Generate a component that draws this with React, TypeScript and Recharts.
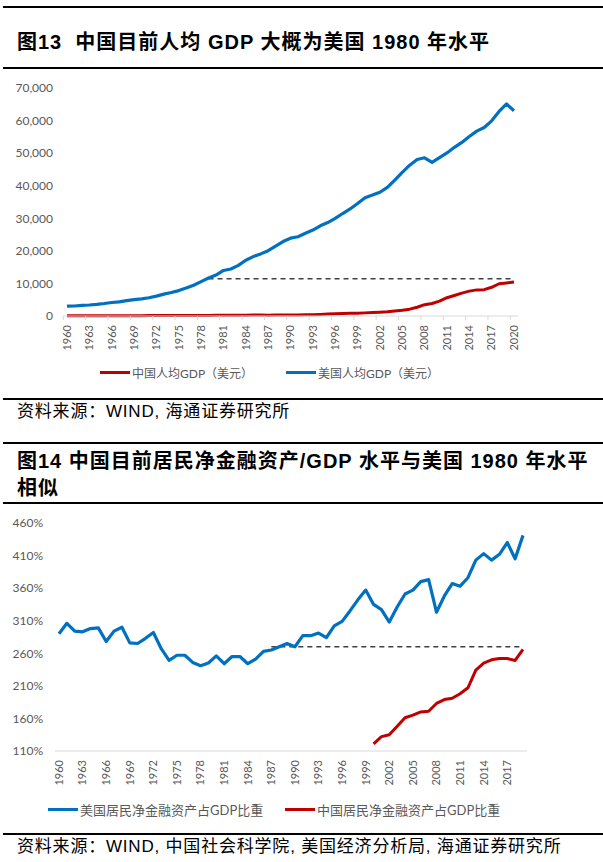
import { LineChart, Line, XAxis, YAxis, ReferenceLine } from "recharts"

// 图13 人均GDP（美元）
const gdpYears = [
  1960, 1961, 1962, 1963, 1964, 1965, 1966, 1967, 1968, 1969,
  1970, 1971, 1972, 1973, 1974, 1975, 1976, 1977, 1978, 1979,
  1980, 1981, 1982, 1983, 1984, 1985, 1986, 1987, 1988, 1989,
  1990, 1991, 1992, 1993, 1994, 1995, 1996, 1997, 1998, 1999,
  2000, 2001, 2002, 2003, 2004, 2005, 2006, 2007, 2008, 2009,
  2010, 2011, 2012, 2013, 2014, 2015, 2016, 2017, 2018, 2019, 2020,
]
const chinaGdp = [
  90, 76, 71, 74, 85, 98, 104, 97, 91, 100,
  113, 119, 132, 157, 160, 178, 165, 185, 156, 184,
  195, 197, 203, 225, 251, 294, 282, 252, 284, 311,
  318, 333, 366, 377, 473, 610, 709, 782, 829, 873,
  959, 1053, 1149, 1289, 1509, 1753, 2099, 2694, 3468, 3832,
  4550, 5614, 6301, 7020, 7636, 8016, 8094, 8817, 9905, 10144, 10409,
]
const usGdp = [
  3007, 3067, 3244, 3375, 3574, 3828, 4146, 4336, 4696, 5032,
  5234, 5609, 6094, 6726, 7226, 7801, 8592, 9453, 10565, 11674,
  12575, 13976, 14434, 15544, 17121, 18237, 19071, 20039, 21417, 22857,
  23889, 24342, 25419, 26387, 27695, 28691, 29968, 31459, 32854, 34515,
  36330, 37134, 37998, 39490, 41725, 44123, 46302, 48050, 48570, 47195,
  48651, 50066, 51784, 53291, 55124, 56763, 57867, 59915, 62805, 65095, 63028,
]
const gdpTicks = [0, 10000, 20000, 30000, 40000, 50000, 60000, 70000]
const gdpBenchmark = 11400
const gdpBenchFrom = 1979
const gdpBenchTo = 2020

// 图14 居民净金融资产/GDP（%）
const assetYears = [
  1960, 1961, 1962, 1963, 1964, 1965, 1966, 1967, 1968, 1969,
  1970, 1971, 1972, 1973, 1974, 1975, 1976, 1977, 1978, 1979,
  1980, 1981, 1982, 1983, 1984, 1985, 1986, 1987, 1988, 1989,
  1990, 1991, 1992, 1993, 1994, 1995, 1996, 1997, 1998, 1999,
  2000, 2001, 2002, 2003, 2004, 2005, 2006, 2007, 2008, 2009,
  2010, 2011, 2012, 2013, 2014, 2015, 2016, 2017, 2018, 2019,
]
const usAssets = [
  290, 306, 294, 293, 298, 299, 278, 294, 300, 276,
  275, 283, 292, 267, 249, 257, 257, 246, 241, 245,
  256, 244, 255, 255, 244, 251, 263, 265, 270, 275,
  270, 287, 287, 291, 284, 302, 309, 325, 342, 357,
  335, 327, 308, 331, 351, 357, 370, 373, 323, 348,
  367, 363, 376, 403, 413, 403, 412, 430, 405, 441,
]
const chinaAssetsFrom = 2000
const chinaAssets = [
  121, 132, 135, 148, 161, 165, 170, 171, 183, 189,
  191, 198, 207, 234, 245, 250, 252, 252, 249, 266,
]
const assetTicks = [110, 160, 210, 260, 310, 360, 410, 460]
const assetBenchmark = 270
const assetBenchFrom = 1987
const assetBenchTo = 2019

const gdpData = gdpYears.map((year, i) => ({ year, china: chinaGdp[i], us: usGdp[i] }))
const assetData = assetYears.map((year, i) => {
  const j = year - chinaAssetsFrom
  return { year, us: usAssets[i], china: j >= 0 ? chinaAssets[j] : null }
})

const BLUE = "#0070C0"
const RED = "#C00000"
const GREY = "#595959"
const AXIS = "#d9d9d9"
const NUM_FONT = "Lato, 'Noto Sans CJK SC', sans-serif"
const CJK_FONT = "'Liberation Sans', 'Noto Sans CJK SC', sans-serif"

function YearTick(props: any) {
  const { x, y, payload, half, marks } = props
  return (
    <g>
      {marks && <line x1={x - half} x2={x - half} y1={y - 9} y2={y - 5} stroke={AXIS} />}
      <text
        x={x}
        y={y}
        transform={`rotate(-90, ${x}, ${y})`}
        textAnchor="end"
        dy="0.35em"
        fill={GREY}
        fontSize={11}
        fontFamily={NUM_FONT}
      >
        {payload.value}
      </text>
    </g>
  )
}

function Rule({ top }: { top: number }) {
  return <div style={{ position: "absolute", left: 3, width: 600, top, height: 2, background: "#000" }} />
}

function LegendItem({ left, top, color, label, size }: any) {
  return (
    <div style={{ position: "absolute", left, top, display: "flex", alignItems: "center", fontFamily: NUM_FONT, fontSize: size, color: GREY, whiteSpace: "nowrap" }}>
      <span style={{ display: "inline-block", width: 30, height: 3, background: color, marginRight: 2 }} />
      {label}
    </div>
  )
}

const titleStyle: any = {
  position: "absolute",
  left: 17,
  fontFamily: CJK_FONT,
  fontWeight: "bold",
  fontSize: 20,
  letterSpacing: 1,
  lineHeight: "24px",
  whiteSpace: "nowrap",
  color: "#000",
}

const sourceStyle: any = {
  position: "absolute",
  left: 17,
  fontFamily: CJK_FONT,
  fontSize: 17,
  letterSpacing: 0.8,
  lineHeight: "20px",
  whiteSpace: "nowrap",
  color: "#000",
}

export default function App() {
  return (
    <div style={{ position: "absolute", left: 0, top: 0, width: 603, height: 862, background: "#fff", overflow: "hidden" }}>
      <Rule top={6} />
      <div style={{ ...titleStyle, top: 30 }}>图13&nbsp;&nbsp;中国目前人均 GDP 大概为美国 1980 年水平</div>
      <Rule top={67} />

      <div style={{ position: "absolute", left: 0, top: 80 }}>
        <LineChart width={603} height={280} data={gdpData} margin={{ top: 8, right: 85, bottom: 4, left: 8 }}>
          <XAxis
            dataKey="year"
            interval={2}
            tickLine={false}
            tickSize={0}
            tickMargin={9}
            height={40}
            padding={{ left: 4, right: 4 }}
            axisLine={{ stroke: AXIS }}
            tick={<YearTick half={3.7} marks />}
          />
          <YAxis
            domain={[0, 70000]}
            ticks={gdpTicks}
            width={55}
            axisLine={false}
            tickLine={false}
            tickSize={0}
            tickMargin={10}
            tick={{ fill: GREY, fontSize: 12, fontFamily: NUM_FONT }}
            tickFormatter={(v: number) => v.toLocaleString("en-US")}
          />
          <ReferenceLine
            segment={[{ x: gdpBenchFrom, y: gdpBenchmark }, { x: gdpBenchTo, y: gdpBenchmark }]}
            stroke="#404040"
            strokeWidth={1.5}
            strokeDasharray="5 4"
          />
          <Line dataKey="china" stroke={RED} strokeWidth={3} dot={false} isAnimationActive={false} strokeLinejoin="round" />
          <Line dataKey="us" stroke={BLUE} strokeWidth={3.2} dot={false} isAnimationActive={false} strokeLinejoin="round" />
        </LineChart>
      </div>

      <LegendItem left={100} top={364} color={RED} label="中国人均GDP（美元）" size={12} />
      <LegendItem left={286} top={364} color={BLUE} label="美国人均GDP（美元）" size={12} />

      <Rule top={398} />
      <div style={{ ...sourceStyle, top: 402 }}>资料来源：WIND, 海通证券研究所</div>
      <Rule top={442} />
      <div style={{ ...titleStyle, top: 449 }}>图14 中国目前居民净金融资产/GDP 水平与美国 1980 年水平</div>
      <div style={{ ...titleStyle, top: 476 }}>相似</div>
      <Rule top={502} />

      <div style={{ position: "absolute", left: 0, top: 510 }}>
        <LineChart width={603} height={285} data={assetData} margin={{ top: 13, right: 76, bottom: 4, left: 0 }}>
          <XAxis
            dataKey="year"
            interval={2}
            tickLine={false}
            tickSize={0}
            tickMargin={9}
            height={40}
            padding={{ left: 4, right: 4 }}
            axisLine={{ stroke: AXIS }}
            tick={<YearTick half={3.9} />}
          />
          <YAxis
            domain={[110, 460]}
            ticks={assetTicks}
            width={55}
            axisLine={false}
            tickLine={false}
            tickSize={0}
            tickMargin={12}
            tick={{ fill: GREY, fontSize: 12, fontFamily: NUM_FONT }}
            tickFormatter={(v: number) => `${v}%`}
          />
          <ReferenceLine
            segment={[{ x: assetBenchFrom, y: assetBenchmark }, { x: assetBenchTo, y: assetBenchmark }]}
            stroke="#404040"
            strokeWidth={1.5}
            strokeDasharray="5 4"
          />
          <Line dataKey="us" stroke={BLUE} strokeWidth={3.2} dot={false} isAnimationActive={false} strokeLinejoin="round" />
          <Line dataKey="china" stroke={RED} strokeWidth={3} dot={false} isAnimationActive={false} strokeLinejoin="round" />
        </LineChart>
      </div>

      <LegendItem left={48} top={800} color={BLUE} label="美国居民净金融资产占GDP比重" size={13} />
      <LegendItem left={285} top={800} color={RED} label="中国居民净金融资产占GDP比重" size={13} />

      <Rule top={833} />
      <div style={{ ...sourceStyle, top: 837 }}>资料来源：WIND, 中国社会科学院, 美国经济分析局, 海通证券研究所</div>
    </div>
  )
}
